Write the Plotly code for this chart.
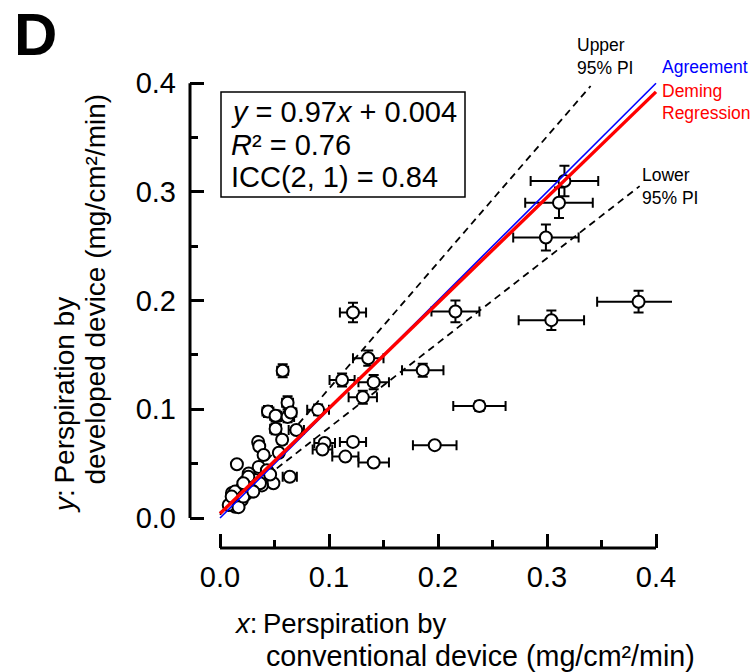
import plotly.graph_objects as go

# ---------------- data ----------------
x_vals = [0.316, 0.311, 0.299, 0.384, 0.304, 0.216, 0.122, 0.136, 0.186, 0.112,
          0.141, 0.131, 0.238, 0.090, 0.096, 0.122, 0.094, 0.197, 0.115, 0.141,
          0.0575, 0.062, 0.044, 0.051, 0.062, 0.065, 0.051, 0.070, 0.064, 0.057,
          0.035, 0.036, 0.040, 0.054, 0.0155, 0.0355, 0.043, 0.0263, 0.049, 0.046,
          0.023, 0.032, 0.0385, 0.020, 0.029, 0.011, 0.023, 0.011, 0.020, 0.014,
          0.008, 0.017, 0.0138, 0.026, 0.0214, 0.0107, 0.0214, 0.0367, 0.0306]
y_vals = [0.310, 0.290, 0.258, 0.199, 0.182, 0.190, 0.189, 0.147, 0.136, 0.127,
          0.125, 0.111, 0.103, 0.0995, 0.069, 0.070, 0.063, 0.067, 0.0565, 0.051,
          0.1355, 0.106, 0.098, 0.094, 0.093, 0.097, 0.082, 0.081, 0.038, 0.072,
          0.070, 0.066, 0.058, 0.060, 0.0494, 0.047, 0.044, 0.041, 0.032, 0.040,
          0.0335, 0.035, 0.030, 0.0274, 0.0243, 0.023, 0.021, 0.015, 0.0166, 0.0104,
          0.012, 0.010, 0.0243, 0.038, 0.0197, 0.0197, 0.032, 0.032, 0.0243]
x_err = [0.031, 0.031, 0.030, 0.038, 0.030, 0.022, 0.012, 0.014, 0.019, 0.0115,
         0.014, 0.013, 0.024, 0.010, 0.0095, 0.012, 0.009, 0.020, 0.012, 0.014,
         0.005, 0.005, 0.005, 0.005, 0.006, 0.005, 0.005, 0.007, 0.0065, 0.004,
         0.003, 0.003, 0.003, 0.003, 0.002, 0.003, 0.003, 0.002, 0.003, 0.003,
         0.002, 0.002, 0.003, 0.002, 0.002, 0.001, 0.002, 0.001, 0.002, 0.001,
         0.001, 0.001, 0.001, 0.002, 0.001, 0.001, 0.002, 0.002, 0.002]
y_err = [0.014, 0.014, 0.012, 0.010, 0.009, 0.010, 0.009, 0.007, 0.006, 0.006,
         0.0065, 0.006, 0.0045, 0.005, 0.003, 0.003, 0.003, 0.003, 0.002, 0.002,
         0.006, 0.006, 0.005, 0.005, 0.005, 0.004, 0.005, 0.003, 0.002, 0.003,
         0.002, 0.002, 0.002, 0.002, 0.001, 0.002, 0.002, 0.001, 0.002, 0.002,
         0.001, 0.001, 0.002, 0.001, 0.001, 0.001, 0.001, 0.001, 0.001, 0.001,
         0.001, 0.001, 0.001, 0.001, 0.001, 0.001, 0.001, 0.001, 0.001]

# regression / agreement / prediction interval lines (slope, intercept, x-extent)
deming_slope, deming_intercept = 0.97, 0.004
agree_slope, agree_intercept = 1.0, 0.0
upper_pi_slope, upper_pi_intercept, upper_pi_xmax = 1.16, 0.003, 0.34
lower_pi_slope, lower_pi_intercept, lower_pi_xmax = 0.78, 0.005, 0.385
line_x0, line_x1 = 0.0, 0.4

tick_vals = [0.0, 0.1, 0.2, 0.3, 0.4]
tick_text = ["0.0", "0.1", "0.2", "0.3", "0.4"]
minor_tick_vals = [0.05, 0.15, 0.25, 0.35]

stats_lines = ["<i>y</i> = 0.97<i>x</i> + 0.004", "<i>R</i>² = 0.76", "ICC(2, 1) = 0.84"]

# ---------------- layout geometry (pixels) ----------------
W, H = 756, 672
PL, PR, PT, PB = 190, 672, 62, 548   # plot area in pixels
X0PX, XSCALE = 220, 1090            # x=0 pixel, px per unit
Y0PX, YSCALE = 518, 1087            # y=0 pixel, px per unit

xr = [(PL - X0PX) / XSCALE, (PR - X0PX) / XSCALE]
yr = [(Y0PX - PB) / YSCALE, (Y0PX - PT) / YSCALE]

def px(xp):
    return (xp - PL) / (PR - PL)

def py(yp):
    return (PB - yp) / (PB - PT)

FONT = "Liberation Sans, Arial, Helvetica, sans-serif"

fig = go.Figure()

# prediction interval lines
for s, b, xm in [(upper_pi_slope, upper_pi_intercept, upper_pi_xmax),
                 (lower_pi_slope, lower_pi_intercept, lower_pi_xmax)]:
    fig.add_trace(go.Scatter(x=[line_x0, xm], y=[b + s * line_x0, b + s * xm], mode="lines",
                             line=dict(color="black", width=1.8, dash="7px,5px"),
                             hoverinfo="skip", showlegend=False, cliponaxis=False))

# data points
fig.add_trace(go.Scatter(
    x=x_vals, y=y_vals, mode="markers",
    marker=dict(symbol="circle", size=12, color="white", line=dict(color="black", width=2)),
    error_x=dict(type="data", array=x_err, color="black", thickness=2, width=5),
    error_y=dict(type="data", array=y_err, color="black", thickness=2, width=5),
    showlegend=False, cliponaxis=False))

# agreement & deming lines
fig.add_trace(go.Scatter(x=[line_x0, line_x1],
                         y=[agree_intercept + agree_slope * line_x0, agree_intercept + agree_slope * line_x1],
                         mode="lines", line=dict(color="blue", width=1.6),
                         showlegend=False, cliponaxis=False))
fig.add_trace(go.Scatter(x=[line_x0, line_x1],
                         y=[deming_intercept + deming_slope * line_x0, deming_intercept + deming_slope * line_x1],
                         mode="lines", line=dict(color="red", width=3.4),
                         showlegend=False, cliponaxis=False))

shapes = [
    # y axis line (offset)
    dict(type="line", xref="paper", yref="y", x0=0, x1=0, y0=tick_vals[0], y1=tick_vals[-1],
         line=dict(color="black", width=3)),
    # x axis line (offset)
    dict(type="line", xref="x", yref="paper", x0=tick_vals[0], x1=tick_vals[-1], y0=0, y1=0,
         line=dict(color="black", width=3)),
    # stats box
    dict(type="rect", xref="paper", yref="paper", x0=px(221), x1=px(465), y0=py(197), y1=py(92),
         line=dict(color="black", width=1.5), fillcolor="white", layer="below"),
]

annotations = []
for i, t in enumerate(stats_lines):
    annotations.append(dict(text=t, xref="paper", yref="paper", x=px(229), y=py(112 + 32.5 * i),
                            xanchor="left", yanchor="middle", showarrow=False,
                            font=dict(family=FONT, size=29, color="black")))

def label(text, xp, yp, color="black", size=17.5, family=FONT, xanchor="left", **kw):
    annotations.append(dict(text=text, xref="paper", yref="paper", x=px(xp), y=py(yp),
                            xanchor=xanchor, yanchor="middle", showarrow=False,
                            font=dict(family=family, size=size, color=color), **kw))

label("Upper", 575, 45)
label("95% PI", 575, 68)
label("Lower", 640, 175)
label("95% PI", 640, 198)
label("Agreement", 660, 67, color="blue")
label("Deming", 660, 91, color="red")
label("Regression", 660, 113, color="red")

# panel letter
label("<b>D</b>", 12, 35, size=60)

# x-axis title
label("<i>x</i>:\u2009Perspiration by", 232, 623, size=27.5)
label("conventional device (mg/cm²/min)", 264, 656, size=28.7)

# y-axis title (rotated)
annotations.append(dict(text="<i>y</i>:\u2009Perspiration by", xref="paper", yref="paper",
                        x=px(64), y=py(515), xanchor="center", yanchor="bottom", textangle=-90,
                        showarrow=False, font=dict(family=FONT, size=28, color="black")))
annotations.append(dict(text="developed device (mg/cm²/min)", xref="paper", yref="paper",
                        x=px(95), y=py(487), xanchor="center", yanchor="bottom", textangle=-90,
                        showarrow=False, font=dict(family=FONT, size=28, color="black")))

axis_common = dict(showgrid=False, zeroline=False, showline=False,
                   tickmode="array", tickvals=tick_vals, ticktext=tick_text,
                   ticks="inside", ticklen=14, tickwidth=2.5, tickcolor="black",
                   minor=dict(ticks="inside", ticklen=8, tickwidth=2.5, tickcolor="black",
                              tickvals=minor_tick_vals),
                   tickfont=dict(family=FONT, size=29, color="black"))

fig.update_layout(
    width=W, height=H,
    margin=dict(l=PL, r=W - PR, t=PT, b=H - PB, pad=0),
    paper_bgcolor="white", plot_bgcolor="white",
    shapes=shapes, annotations=annotations,
    xaxis=dict(range=xr, ticklabelstandoff=9, **axis_common),
    yaxis=dict(range=yr, ticklabelstandoff=13, **axis_common),
)

fig.write_html("out.html", config={"displayModeBar": False},
               post_script="document.body.style.margin='0';document.body.style.padding='0';")
